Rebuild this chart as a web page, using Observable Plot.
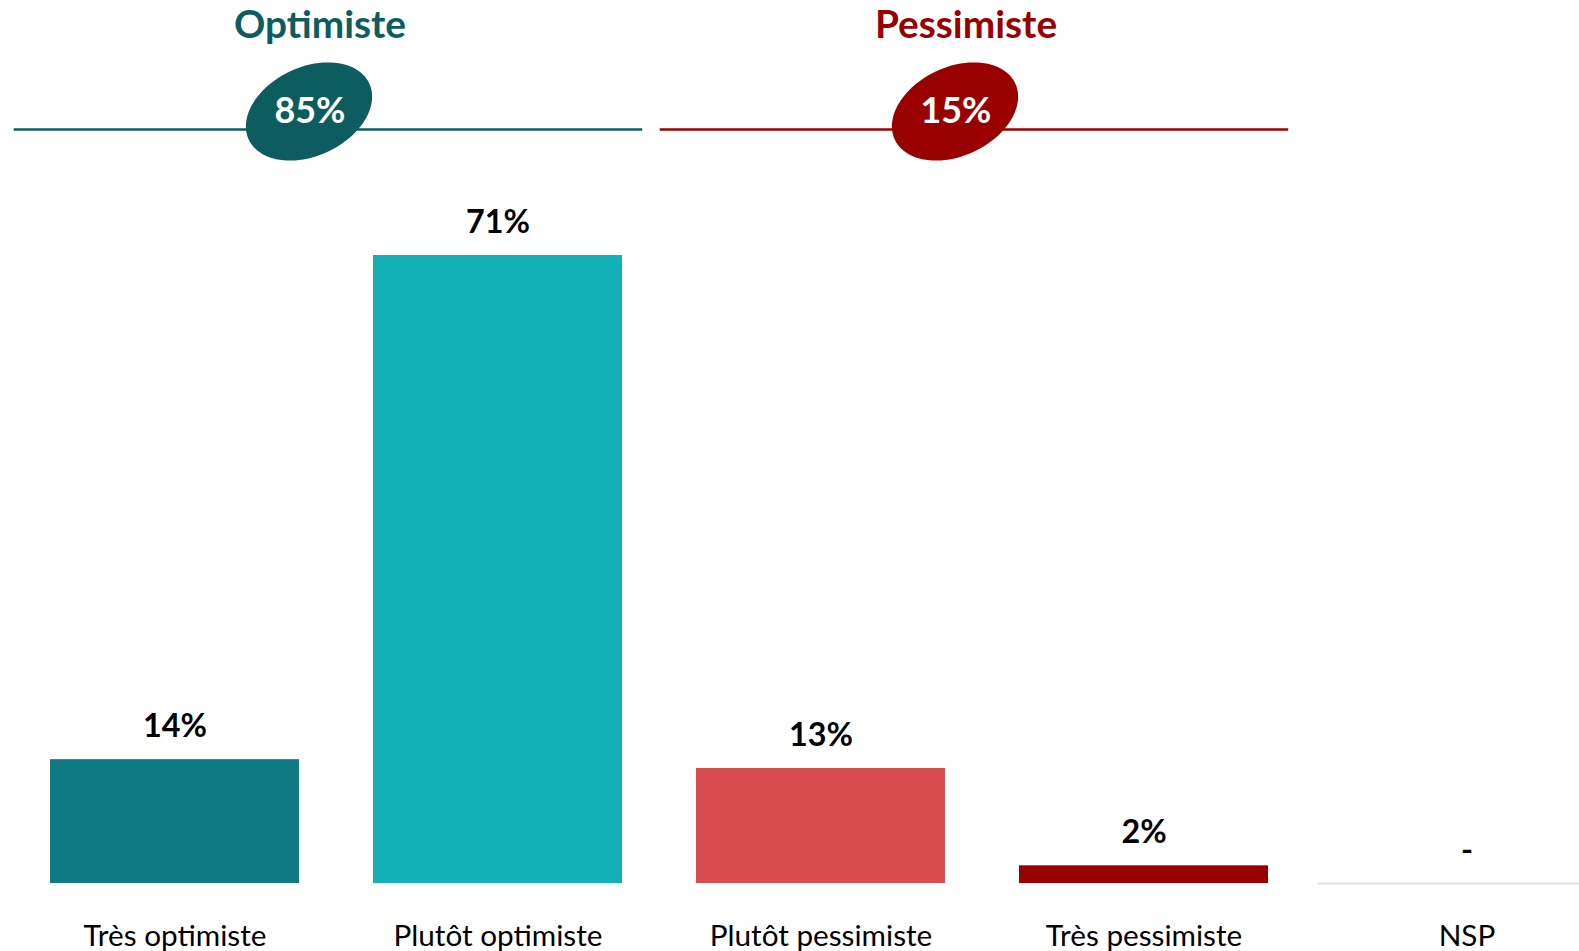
<!DOCTYPE html>
<html><head><meta charset="utf-8">
<script src="https://cdn.jsdelivr.net/npm/d3@7"></script>
<script src="https://cdn.jsdelivr.net/npm/@observablehq/plot@0.6"></script>
<style>html,body{margin:0;padding:0;background:#fff;overflow:hidden}#chart{width:1579px}#chart svg{display:block;max-width:none !important;width:1579px;height:951px}</style>
</head><body><div id="chart"></div>
<script>
const categories = ["Très optimiste", "Plutôt optimiste", "Plutôt pessimiste", "Très pessimiste", "NSP"];
const values = [14, 71, 13, 2, null];
const barColors = ["#107a82", "#13b0b7", "#d84c4f", "#990000", "#d9d9d9"];
const groupLabels = ["Optimiste", "Pessimiste"];
const groupTotals = [85, 15];
const groupFirst = ["Très optimiste", "Plutôt pessimiste"];
const groupLast = ["Plutôt optimiste", "Très pessimiste"];
const groupColors = ["#0d5c5f", "#990000"];

const bars = categories.map((c, i) => ({category: c, value: values[i]}));
const groups = groupLabels.map((g, i) => ({label: g, total: groupTotals[i], first: groupFirst[i], last: groupLast[i]}));

function ellipseSymbol(a, b, deg) {
  const th = deg * Math.PI / 180, c = Math.cos(th), s = Math.sin(th);
  return {draw(ctx) {
    for (let k = 0; k <= 96; k++) {
      const t = k / 96 * 2 * Math.PI, x = a * Math.cos(t), y = b * Math.sin(t);
      const X = x * c - y * s, Y = x * s + y * c;
      if (k === 0) ctx.moveTo(X, Y); else ctx.lineTo(X, Y);
    }
    ctx.closePath();
  }};
}

const font = "Lato, 'Open Sans', sans-serif";
const chart = Plot.plot({
  width: 1579, height: 951, margin: 0,
  style: {fontFamily: font, background: "#fff"},
  x: {domain: categories, range: [10.8, 1629.2], paddingInner: 0.23, paddingOuter: 0.115, axis: null},
  y: {domain: [0, 71], range: [883, 255], axis: null},
  color: {domain: categories.concat(groupLabels), range: barColors.concat(groupColors)},
  marks: [
    Plot.ruleY(bars.filter(d => d.value == null), {x1: "category", x2: "category", y: d => 0, insetLeft: -24, insetRight: 0, stroke: "#d9d9d9", strokeWidth: 1.5}),
    Plot.barY(bars.filter(d => d.value != null), {x: "category", y: "value", fill: "category"}),
    Plot.text(bars, {x: "category", y: d => d.value ?? 0, text: d => d.value == null ? "-" : d.value + "%", dy: -33.3, fontSize: 32.3, fontWeight: "bold", fill: "#000"}),
    Plot.text(bars, {x: "category", y: d => 0, text: "category", dy: 52.5, fontSize: 29.7, fill: "#000"}),
    Plot.ruleY(groups, {x1: "first", x2: "last", y: d => 0, dy: -754, insetLeft: -36.3, insetRight: -20.2, stroke: "label", strokeWidth: 2.5}),
    Plot.dot(groups, {x: "first", frameAnchor: "top", dx: 134, dy: 111, symbol: ellipseSymbol(66.5, 44.4, -25), fill: "label", stroke: "none"}),
    Plot.text(groups, {x: "first", frameAnchor: "top", lineAnchor: "middle", dx: 135, dy: 111, text: d => d.total + "%", fill: "#fff", fontSize: 35.8, fontWeight: "bold"}),
    Plot.text(groups, {x: "first", frameAnchor: "top", lineAnchor: "middle", dx: 145, dy: 25.2, text: "label", fill: "label", fontSize: 38.8, fontWeight: "bold"})
  ]
});
document.getElementById("chart").append(chart);
</script>
</body></html>
